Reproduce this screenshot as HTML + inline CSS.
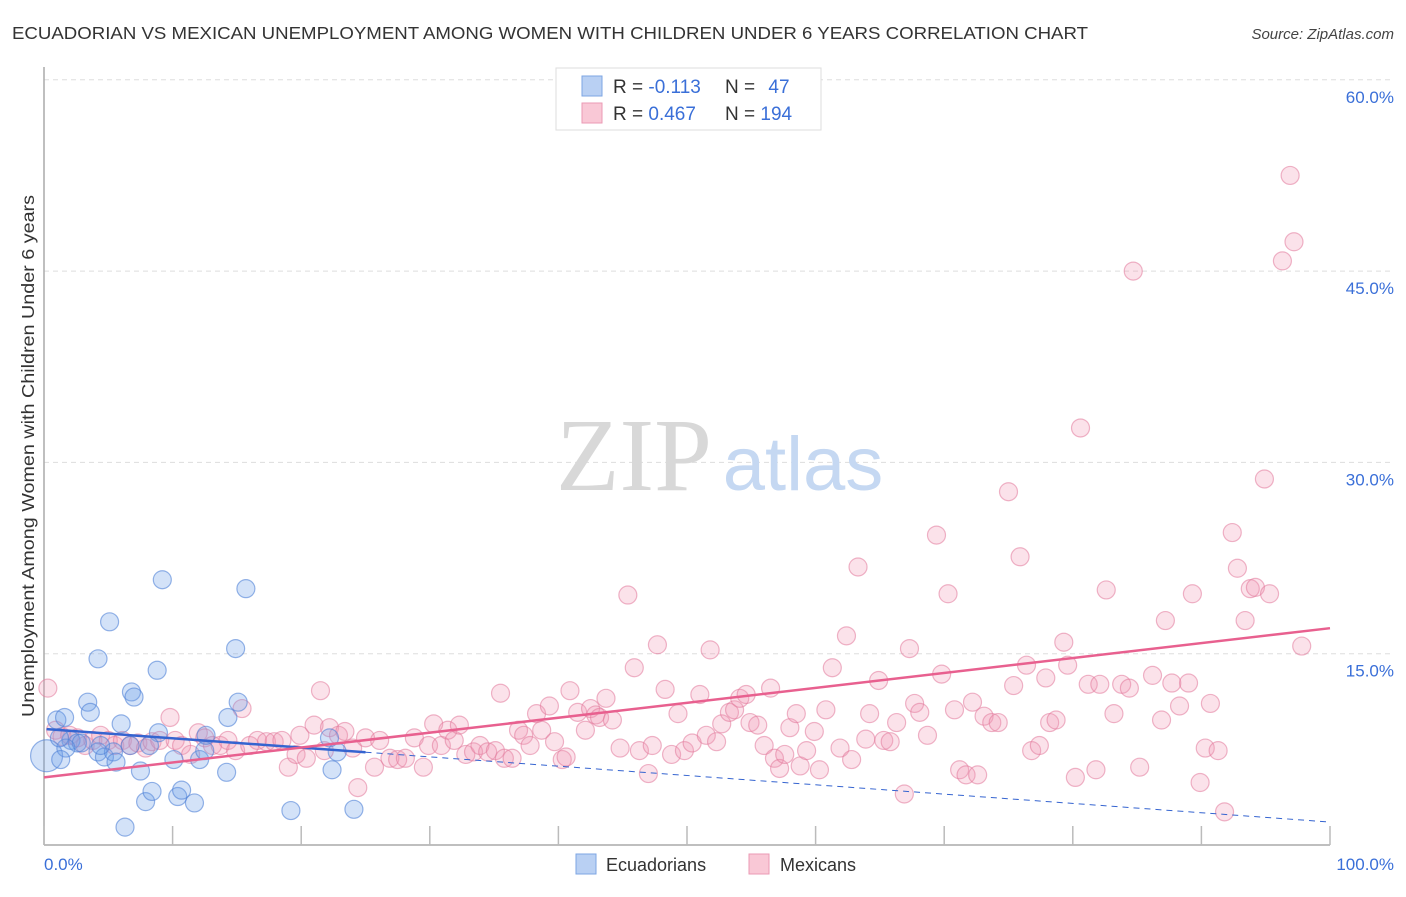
<!DOCTYPE html>
<html><head><meta charset="utf-8"><style>
body{margin:0;background:#fff;font-family:"Liberation Sans",sans-serif;}
svg text{font-family:"Liberation Sans",sans-serif;}
</style></head><body>
<svg id="chart" width="1406" height="892" viewBox="0 0 1406 892" xmlns="http://www.w3.org/2000/svg">
<text x="12" y="39" font-size="17.5" fill="#333" textLength="1076" lengthAdjust="spacingAndGlyphs">ECUADORIAN VS MEXICAN UNEMPLOYMENT AMONG WOMEN WITH CHILDREN UNDER 6 YEARS CORRELATION CHART</text>
<text x="1394" y="39" font-size="15" fill="#444" font-style="italic" text-anchor="end">Source: ZipAtlas.com</text>
<g id="grid"></g>
<text x="634" y="490" font-size="104" fill="#d8d8d8" text-anchor="middle" style="font-family:'Liberation Serif',serif">ZIP</text>
<text x="803" y="490" font-size="76" fill="#c5d8f2" text-anchor="middle">atlas</text>
<g id="axes"></g>
<g id="pts"></g>
<g id="lines"></g>
<text transform="translate(34,456) rotate(-90)" font-size="17.5" fill="#333" text-anchor="middle" textLength="522" lengthAdjust="spacingAndGlyphs">Unemployment Among Women with Children Under 6 years</text>
<text x="44" y="870" font-size="17" fill="#3a6fd8">0.0%</text>
<text x="1394" y="870" font-size="17" fill="#3a6fd8" text-anchor="end">100.0%</text>
<g>
<rect x="556" y="68" width="265" height="62" fill="#fff" stroke="#ddd"/>
<rect x="582" y="76" width="20" height="20" fill="#b9d0f3" stroke="#7da6e3"/>
<rect x="582" y="103" width="20" height="20" fill="#f9c8d6" stroke="#eb9ab4"/>
<text x="613" y="93" font-size="19" fill="#333">R = <tspan fill="#3a6fd8">-0.113</tspan></text>
<text x="725" y="93" font-size="19" fill="#333">N = <tspan fill="#3a6fd8" dx="8">47</tspan></text>
<text x="613" y="120" font-size="19" fill="#333">R = <tspan fill="#3a6fd8">0.467</tspan></text>
<text x="725" y="120" font-size="19" fill="#333">N = <tspan fill="#3a6fd8">194</tspan></text>
</g>
<g>
<rect x="576" y="854" width="20" height="20" fill="#b9d0f3" stroke="#7da6e3"/>
<text x="606" y="871" font-size="18" fill="#333">Ecuadorians</text>
<rect x="749" y="854" width="20" height="20" fill="#f9c8d6" stroke="#eb9ab4"/>
<text x="780" y="871" font-size="18" fill="#333">Mexicans</text>
</g>
</svg>
<script>
const yTicks=[15,30,45,60];
const yTickLabels=["15.0%","30.0%","45.0%","60.0%"];
const xTicks=[0,10,20,30,40,50,60,70,80,90,100];
const blueX=[0.2,1.0,1.6,2.1,2.6,3.4,3.6,4.2,4.7,5.1,5.4,5.6,6.0,6.3,6.8,7.0,7.5,7.9,8.4,8.8,8.9,9.2,10.1,10.4,10.7,11.7,12.1,12.5,14.3,14.2,14.9,15.1,15.7,19.2,22.4,22.8,24.1,22.2,4.2,2.9,1.7,1.2,4.4,1.3,6.7,8.2,12.6];
const blueY=[7.0,9.8,10.0,8.2,8.0,11.2,10.4,7.3,6.9,17.5,7.3,6.5,9.5,1.4,12.0,11.6,5.8,3.4,4.2,13.7,8.8,20.8,6.7,3.8,4.3,3.3,6.7,7.4,10.0,5.7,15.4,11.2,20.1,2.7,5.9,7.3,2.8,8.4,14.6,8.0,7.6,8.4,7.8,6.7,7.8,7.8,8.6];
const pinkX=[0.3,0.9,1.4,2.0,2.6,3.2,3.8,4.4,5.0,5.5,6.1,6.7,7.3,7.9,8.4,9.0,9.8,10.2,10.7,11.4,12.0,12.5,13.1,13.7,14.3,14.9,15.4,16.0,16.6,17.3,17.9,18.5,19.0,19.6,19.9,20.4,21.0,21.5,21.8,22.2,22.9,23.4,24.0,24.4,25.0,25.7,26.1,26.9,27.5,28.1,28.8,29.5,29.9,30.3,30.9,31.4,31.9,32.3,32.8,33.4,33.9,34.5,35.1,35.5,35.8,36.4,36.9,37.3,37.8,38.3,38.7,39.3,39.7,40.3,40.6,40.9,41.5,42.1,42.5,42.9,43.2,43.7,44.2,44.8,45.4,45.9,46.3,47.0,47.3,47.7,48.3,48.8,49.3,49.8,50.4,51.0,51.5,51.8,52.3,52.7,53.3,53.7,54.1,54.6,54.9,55.5,56.0,56.5,56.8,57.2,57.6,58.0,58.5,58.8,59.3,59.9,60.3,60.8,61.3,61.9,62.4,62.8,63.3,63.9,64.2,64.9,65.3,65.8,66.3,66.9,67.3,67.7,68.1,68.7,69.4,69.8,70.3,70.8,71.2,71.7,72.2,72.6,73.1,73.7,74.2,75.0,75.4,75.9,76.4,76.8,77.4,77.9,78.2,78.7,79.3,79.6,80.2,80.6,81.2,81.8,82.1,82.6,83.2,83.8,84.4,84.7,85.2,86.2,86.9,87.2,87.7,88.3,89.0,89.3,89.9,90.3,90.7,91.3,91.8,92.4,92.8,93.4,93.8,94.2,94.9,95.3,96.3,96.9,97.2,97.8];
const pinkY=[12.3,9.0,8.5,8.6,8.4,7.8,8.2,8.6,8.2,7.8,8.2,7.8,8.0,7.6,8.1,8.2,10.0,8.2,7.8,7.1,8.8,8.4,7.8,7.8,8.2,7.4,10.7,7.8,8.2,8.1,8.1,8.2,6.1,7.1,8.6,6.8,9.4,12.1,7.4,9.2,8.6,8.9,7.6,4.5,8.4,6.1,8.2,6.8,6.7,6.8,8.4,6.1,7.8,9.5,7.8,9.0,8.2,9.4,7.1,7.3,7.8,7.3,7.4,11.9,6.8,6.8,9.0,8.6,7.8,10.3,9.0,10.9,8.1,6.7,6.9,12.1,10.4,9.0,10.7,10.2,10.0,11.5,9.8,7.6,19.6,13.9,7.4,5.6,7.8,15.7,12.2,7.1,10.3,7.4,8.0,11.8,8.6,15.3,8.1,9.5,10.4,10.6,11.5,11.8,9.6,9.4,7.8,12.3,6.8,6.0,7.1,9.2,10.3,6.2,7.4,8.9,5.9,10.6,13.9,7.6,16.4,6.7,21.8,8.3,10.3,12.9,8.2,8.1,9.6,4.0,15.4,11.1,10.4,8.6,24.3,13.4,19.7,10.6,5.9,5.5,11.2,5.5,10.1,9.6,9.6,27.7,12.5,22.6,14.1,7.4,7.8,13.1,9.6,9.8,15.9,14.1,5.3,32.7,12.6,5.9,12.6,20.0,10.3,12.6,12.3,45.0,6.1,13.3,9.8,17.6,12.7,10.9,12.7,19.7,4.9,7.6,11.1,7.4,2.6,24.5,21.7,17.6,20.1,20.2,28.7,19.7,45.8,52.5,47.3,15.6];
const blueTrend=[9.1,-0.073];
const pinkTrend=[5.3,0.117];
const blueSolidEnd=25;

const X0=44,X1=1330,Y0=845,PXPER=191.3/15;
const sx=v=>X0+(X1-X0)*v/100;
const sy=v=>Y0-v*PXPER;
const NS="http://www.w3.org/2000/svg";
function mk(tag,attrs,parent){const e=document.createElementNS(NS,tag);for(const k in attrs)e.setAttribute(k,attrs[k]);parent.appendChild(e);return e;}
const grid=document.getElementById('grid');
yTicks.forEach((t,i)=>{
 const l=mk('line',{x1:44,x2:1394,y1:sy(t),y2:sy(t),stroke:'#ddd','stroke-dasharray':'5,4'},grid);
 
 
 const tx=mk('text',{x:1394,y:sy(t)+23,'font-size':17,fill:'#3a6fd8','text-anchor':'end'},grid);
 tx.textContent=yTickLabels[i];
 
 
});
const axes=document.getElementById('axes');
const ya=mk('line',{x1:44,x2:44,y1:67,y2:845,stroke:'#aaa','stroke-width':1.5},axes);


const xa=mk('line',{x1:44,x2:1330,y1:845,y2:845,stroke:'#aaa','stroke-width':1.5},axes);


xTicks.forEach(t=>{
 const k=mk('line',{x1:sx(t),x2:sx(t),y1:826,y2:845,stroke:'#bbb','stroke-width':1.5},axes);
 
 
});
const pts=document.getElementById('pts');
pinkX.forEach((x,i)=>{
 const c=mk('circle',{cx:sx(x),cy:sy(pinkY[i]),r:9,fill:'rgba(242,150,178,0.28)',stroke:'rgba(226,120,155,0.55)','stroke-width':1.2},pts);
 
 
});
blueX.forEach((x,i)=>{
 const c=mk('circle',{cx:sx(x),cy:sy(blueY[i]),r:i===0?16:9,fill:'rgba(110,160,232,0.3)',stroke:'rgba(80,130,215,0.6)','stroke-width':1.2},pts);
 
 
});
const lines=document.getElementById('lines');
const bt=v=>blueTrend[0]+blueTrend[1]*v, pt=v=>pinkTrend[0]+pinkTrend[1]*v;
const b1=mk('line',{x1:sx(0.2),y1:sy(bt(0.2)),x2:sx(blueSolidEnd),y2:sy(bt(blueSolidEnd)),stroke:'#3564d0','stroke-width':2.5},lines);


const b2=mk('line',{x1:sx(blueSolidEnd),y1:sy(bt(blueSolidEnd)),x2:sx(100),y2:sy(bt(100)),stroke:'#3564d0','stroke-width':1,'stroke-dasharray':'6,5'},lines);


const p1=mk('line',{x1:sx(0),y1:sy(pt(0)),x2:sx(100),y2:sy(pt(100)),stroke:'#e8608f','stroke-width':2.5},lines);


</script>
</body></html>
